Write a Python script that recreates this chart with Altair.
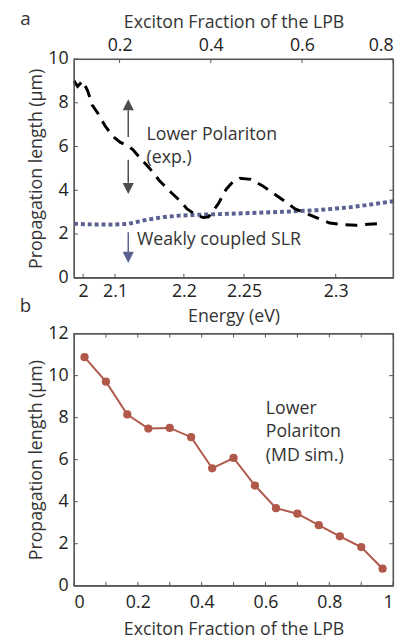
import altair as alt
import pandas as pd

FONT = "Open Sans"

# ---------------- Panel a data (x = exciton fraction of the LPB) ----------------
lp_x = [0.100, 0.108, 0.119, 0.130, 0.140, 0.153, 0.168, 0.186, 0.201, 0.216, 0.229,
        0.244, 0.266, 0.287, 0.313, 0.331, 0.348, 0.369, 0.384, 0.395, 0.417, 0.434,
        0.449, 0.464, 0.488, 0.514, 0.538, 0.562, 0.585, 0.611, 0.637, 0.661, 0.691,
        0.719, 0.745, 0.777]
lp_y = [9.0, 8.75, 9.0, 8.55, 7.9, 7.5, 6.95, 6.45, 6.2, 6.05, 5.86,
        5.5, 5.0, 4.45, 3.9, 3.55, 3.15, 2.85, 2.75, 2.78, 3.4, 4.05,
        4.4, 4.55, 4.5, 4.2, 3.85, 3.5, 3.15, 2.93, 2.7, 2.5, 2.43,
        2.4, 2.45, 2.48]

slr_x = [0.100, 0.136, 0.179, 0.218, 0.259, 0.298, 0.331, 0.374, 0.417, 0.460,
         0.514, 0.562, 0.633, 0.704, 0.741, 0.800]
slr_y = [2.47, 2.44, 2.43, 2.46, 2.65, 2.78, 2.84, 2.88, 2.91, 2.94,
         2.98, 3.02, 3.09, 3.22, 3.32, 3.50]

top_ticks = [0.2, 0.4, 0.6, 0.8]
energy_labels = ["2", "2.1", "2.2", "2.25", "2.3"]
energy_pos = [0.120, 0.190, 0.341, 0.473, 0.674]
ya_ticks = [0, 2, 4, 6, 8, 10]

# ---------------- Panel b data ----------------
sim_x = [0.033, 0.100, 0.167, 0.233, 0.300, 0.367, 0.433, 0.500, 0.567, 0.633,
         0.700, 0.767, 0.833, 0.900, 0.967]
sim_y = [10.88, 9.71, 8.15, 7.48, 7.51, 7.07, 5.59, 6.08, 4.77, 3.69,
         3.43, 2.88, 2.35, 1.84, 0.81]
xb_labels = [0, 0.2, 0.4, 0.6, 0.8, 1.0]
xb_ticks = [0, 0.1, 0.2, 0.3, 0.4, 0.5, 0.6, 0.7, 0.8, 0.9, 1.0]
yb_ticks = [0, 2, 4, 6, 8, 10, 12]

# annotations (data coordinates)
ann_a = pd.DataFrame({"x": [0.259, 0.259, 0.238],
                      "y": [6.53, 5.45, 1.71],
                      "t": ["Lower Polariton", "(exp.)", "Weakly coupled SLR"]})
ann_b = pd.DataFrame({"x": [0.601, 0.601, 0.601],
                      "y": [8.40, 7.31, 6.17],
                      "t": ["Lower", "Polariton", "(MD sim.)"]})

GRAY = "#4d4d4d"
BLUE = "#5b6190"
RED = "#b0594b"
FRAME = "#555555"
TXT = "#333333"

Wa, Ha = 324, 222
Wb, Hb = 324, 256
TLPX = 4  # inward tick length in pixels

# ---------- energy label expression ----------
expr = ""
for i in range(len(energy_pos) - 1):
    mid = (energy_pos[i] + energy_pos[i + 1]) / 2
    expr += f"datum.value < {mid:.4f} ? '{energy_labels[i]}' : "
expr += f"'{energy_labels[-1]}'"

xs_a = alt.Scale(domain=[0.1, 0.8], nice=False, zero=False)
ys_a = alt.Scale(domain=[0, 10], nice=False, zero=True)


def frame_and_ticks(xvals, yvals, xdom, ydom, xscale, yscale, W, H, xvals_top=None):
    """Box around the plot area and short inward ticks, all through the scales."""
    if xvals_top is None:
        xvals_top = xvals
    x0, x1 = xdom
    y0, y1 = ydom
    dx = TLPX / W * (x1 - x0)
    dy = TLPX / H * (y1 - y0)
    box = pd.DataFrame({"x": [x0], "x2": [x1], "y": [y0], "y2": [y1]})
    frame = alt.Chart(box).mark_rect(filled=False, stroke=FRAME, strokeWidth=1.3,
                                     opacity=1).encode(
        x=alt.X("x:Q", scale=xscale, axis=None), x2="x2:Q",
        y=alt.Y("y:Q", scale=yscale, axis=None), y2="y2:Q")
    n = len(yvals)
    yt = pd.DataFrame({"x": [x0] * n + [x1 - dx] * n,
                       "x2": [x0 + dx] * n + [x1] * n,
                       "y": list(yvals) * 2})
    m, k = len(xvals), len(xvals_top)
    xt = pd.DataFrame({"x": list(xvals) + list(xvals_top),
                       "y": [y0] * m + [y1 - dy] * k,
                       "y2": [y0 + dy] * m + [y1] * k})
    ytick = alt.Chart(yt).mark_rule(color=FRAME, strokeWidth=1).encode(
        x=alt.X("x:Q", scale=xscale, axis=None), x2="x2:Q",
        y=alt.Y("y:Q", scale=yscale, axis=None))
    xtick = alt.Chart(xt).mark_rule(color=FRAME, strokeWidth=1).encode(
        x=alt.X("x:Q", scale=xscale, axis=None),
        y=alt.Y("y:Q", scale=yscale, axis=None), y2="y2:Q")
    return [ytick, xtick, frame]


ax_common = dict(labelFont=FONT, titleFont=FONT, labelFontSize=18, titleFontSize=18,
                 titleFontWeight="normal", labelColor="#222222", titleColor=TXT,
                 ticks=False, domain=False, grid=False)

yaxis_a = alt.Axis(values=ya_ticks, title="Propagation length (μm)",
                   labelPadding=6, titlePadding=2, **ax_common)

lp_df = pd.DataFrame({"x": lp_x, "y": lp_y})
slr_df = pd.DataFrame({"x": slr_x, "y": slr_y})

lp_line = alt.Chart(lp_df).mark_line(color="black", strokeWidth=3, strokeDash=[12, 8]).encode(
    x=alt.X("x:Q", scale=xs_a,
            axis=alt.Axis(orient="bottom", values=energy_pos, labelExpr=expr,
                          title="Energy (eV)", labelPadding=5, titlePadding=7, **ax_common)),
    y=alt.Y("y:Q", scale=ys_a, axis=yaxis_a),
)
slr_line = alt.Chart(slr_df).mark_line(color=BLUE, strokeWidth=4, strokeDash=[4, 3]).encode(
    x=alt.X("x:Q", scale=xs_a,
            axis=alt.Axis(orient="top", values=top_ticks, format="~g",
                          title="Exciton Fraction of the LPB", labelPadding=5,
                          titlePadding=5, **ax_common)),
    y=alt.Y("y:Q", scale=ys_a, axis=None),
)

arrow_x = 0.219
shaft_df = pd.DataFrame({"x": [arrow_x, arrow_x, arrow_x],
                         "y": [7.66, 5.40, 2.08], "y2": [6.44, 4.34, 1.18],
                         "c": [GRAY, GRAY, BLUE]})
shafts = alt.Chart(shaft_df).mark_rule(strokeWidth=1.5).encode(
    x=alt.X("x:Q", scale=xs_a, axis=None), y=alt.Y("y:Q", scale=ys_a, axis=None),
    y2="y2:Q", color=alt.Color("c:N", scale=None))
up_df = pd.DataFrame({"x": [arrow_x], "y": [7.91]})
dn_df = pd.DataFrame({"x": [arrow_x, arrow_x], "y": [4.08, 0.93], "c": [GRAY, BLUE]})
up_head = alt.Chart(up_df).mark_point(shape="M-1,1L1,1L0,-1Z", filled=True, size=128,
                                      opacity=1, color=GRAY, strokeWidth=0).encode(
    x=alt.X("x:Q", scale=xs_a, axis=None), y=alt.Y("y:Q", scale=ys_a, axis=None))
dn_head = alt.Chart(dn_df).mark_point(shape="M-1,-1L1,-1L0,1Z", filled=True, size=128,
                                      opacity=1, strokeWidth=0).encode(
    x=alt.X("x:Q", scale=xs_a, axis=None), y=alt.Y("y:Q", scale=ys_a, axis=None),
    color=alt.Color("c:N", scale=None))

text_a = alt.Chart(ann_a).mark_text(align="left", baseline="middle", font=FONT,
                                    fontSize=18, color=TXT).encode(
    x=alt.X("x:Q", scale=xs_a, axis=None), y=alt.Y("y:Q", scale=ys_a, axis=None), text="t:N")

label_a = alt.Chart(pd.DataFrame({"t": ["a"]})).mark_text(
    font=FONT, fontSize=19, color=TXT, align="center", baseline="middle").encode(
    x=alt.value(24 - 73.3), y=alt.value(15 - 56), text="t:N")

panel_a = alt.layer(
    slr_line, lp_line, shafts, up_head, dn_head, text_a, label_a,
    *frame_and_ticks(energy_pos, ya_ticks, [0.1, 0.8], [0, 10], xs_a, ys_a, Wa, Ha,
                     xvals_top=top_ticks)
).resolve_axis(x="independent", y="independent").properties(width=Wa, height=Ha)

# ---------------- Panel b ----------------
xs_b = alt.Scale(domain=[0, 1], nice=False, zero=False)
ys_b = alt.Scale(domain=[0, 12], nice=False)
sim_df = pd.DataFrame({"x": sim_x, "y": sim_y})

sim_line = alt.Chart(sim_df).mark_line(color=RED, strokeWidth=2).encode(
    x=alt.X("x:Q", scale=xs_b,
            axis=alt.Axis(orient="bottom", values=xb_labels, format="~g",
                          title="Exciton Fraction of the LPB", labelPadding=8,
                          titlePadding=10, **ax_common)),
    y=alt.Y("y:Q", scale=ys_b,
            axis=alt.Axis(values=yb_ticks, title="Propagation length (μm)",
                          labelPadding=6, titlePadding=2, **ax_common)),
)
sim_pts = alt.Chart(sim_df).mark_circle(color=RED, size=70, opacity=1).encode(
    x=alt.X("x:Q", scale=xs_b, axis=None), y=alt.Y("y:Q", scale=ys_b, axis=None))

text_b = alt.Chart(ann_b).mark_text(align="left", baseline="middle", font=FONT,
                                    fontSize=18, color=TXT).encode(
    x=alt.X("x:Q", scale=xs_b, axis=None), y=alt.Y("y:Q", scale=ys_b, axis=None), text="t:N")
label_b = alt.Chart(pd.DataFrame({"t": ["b"]})).mark_text(
    font=FONT, fontSize=19, color=TXT, align="center", baseline="middle").encode(
    x=alt.value(24 - 73.3), y=alt.value(307 - 334.7), text="t:N")

panel_b = alt.layer(
    sim_line, sim_pts, text_b, label_b,
    *frame_and_ticks(xb_ticks, yb_ticks, [0, 1], [0, 12], xs_b, ys_b, Wb, Hb)
).resolve_axis(x="independent", y="independent").properties(width=Wb, height=Hb)

chart = alt.vconcat(panel_a, panel_b, spacing=56.7, bounds="flush").properties(
    padding={"left": 11, "top": -4, "right": 0, "bottom": 0},
    background="white",
).configure_view(stroke=FRAME, strokeWidth=1)

chart.save("out.html", embed_options={"renderer": "svg", "actions": False})
